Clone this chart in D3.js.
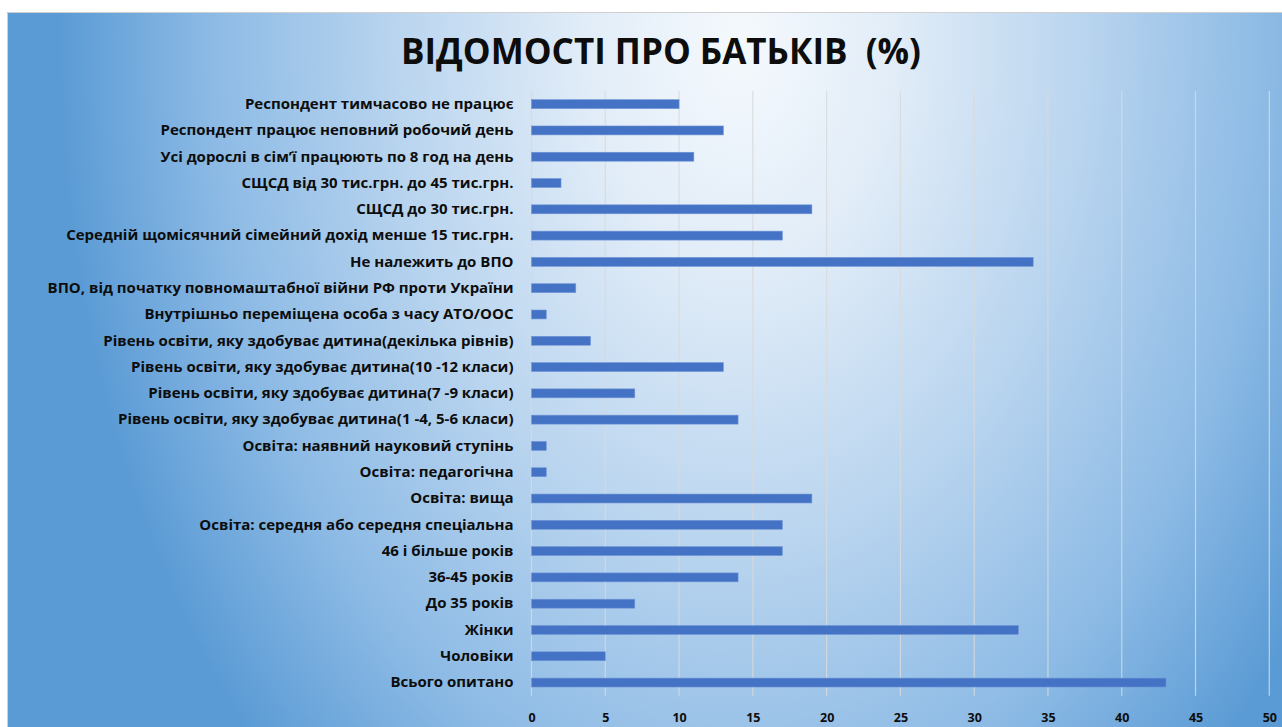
<!DOCTYPE html>
<html>
<head>
<meta charset="utf-8">
<script src="https://cdn.jsdelivr.net/npm/d3@7"></script>
<style>
  body { margin: 0; background: #fff; }
  svg { display: block; font-family: "Open Sans", "Noto Sans", sans-serif; }
</style>
</head>
<body>
<svg id="chart"></svg>
<script>
const categories = [
  "Респондент тимчасово не працює",
  "Респондент працює неповний робочий день",
  "Усі дорослі в сім’ї працюють по 8 год на день",
  "СЩСД від 30 тис.грн. до 45 тис.грн.",
  "СЩСД до 30 тис.грн.",
  "Середній щомісячний сімейний дохід менше 15 тис.грн.",
  "Не належить до ВПО",
  "ВПО, від початку повномаштабної війни РФ проти України",
  "Внутрішньо переміщена особа з часу АТО/ООС",
  "Рівень освіти, яку здобуває дитина(декілька рівнів)",
  "Рівень освіти, яку здобуває дитина(10 -12 класи)",
  "Рівень освіти, яку здобуває дитина(7 -9 класи)",
  "Рівень освіти, яку здобуває дитина(1 -4, 5-6 класи)",
  "Освіта: наявний науковий ступінь",
  "Освіта: педагогічна",
  "Освіта: вища",
  "Освіта: середня або середня спеціальна",
  "46 і більше років",
  "36-45 років",
  "До 35 років",
  "Жінки",
  "Чоловіки",
  "Всього опитано"
];
const values = [10, 13, 11, 2, 19, 17, 34, 3, 1, 4, 13, 7, 14, 1, 1, 19, 17, 17, 14, 7, 33, 5, 43];
const xTicks = [0, 5, 10, 15, 20, 25, 30, 35, 40, 45, 50];
const title = "ВІДОМОСТІ ПРО БАТЬКІВ  (%)";

const width = 1282;
const height = 727;
const plot = { left: 531.5, right: 1269.3, top: 91, bottom: 695.7 };

let svg = d3.select("#chart")
            .attr("width", width)
            .attr("height", height);

// background gradient (light centre, blue edges)
let defs = svg.append("defs");
let grad = defs.append("radialGradient")
                 .attr("id", "bg")
                 .attr("gradientUnits", "userSpaceOnUse")
                 .attr("cx", 0).attr("cy", 0).attr("r", 1)
                 .attr("gradientTransform", "translate(740,40) scale(680,1000)");
[["0", "#f5f9fd"], ["0.22", "#e2edf8"], ["0.5", "#bad5ef"], ["0.78", "#8cbae5"], ["1", "#5b9bd5"]]
  .forEach(s => grad.append("stop").attr("offset", s[0]).attr("stop-color", s[1]));

svg.append("rect")
    .attr("x", 7).attr("y", 12)
    .attr("width", width - 7).attr("height", height - 12)
    .attr("fill", "url(#bg)");
svg.append("path")
    .attr("d", `M7.5,${height} V12.5 H${width}`)
    .attr("fill", "none")
    .attr("stroke", "#d0d0d0");

// title
svg.append("text")
    .attr("x", 661)
    .attr("y", 64)
    .attr("text-anchor", "middle")
    .style("font-size", "35px")
    .style("font-weight", "700")
    .style("fill", "#0d0d0d")
    .style("white-space", "pre")
    .text(title);

// scales
let x = d3.scaleLinear()
          .domain([0, 50])
          .range([plot.left, plot.right]);

let y = d3.scaleBand()
          .domain(categories)
          .range([plot.top, plot.bottom])
          .paddingInner(0.66)
          .paddingOuter(0.33);

// gridlines
svg.append("g")
    .selectAll("line")
    .data(xTicks)
    .enter()
    .append("line")
      .attr("x1", d => x(d)).attr("x2", d => x(d))
      .attr("y1", plot.top).attr("y2", plot.bottom)
      .attr("stroke", "#d9d9d9")
      .attr("stroke-opacity", 0.85)
      .attr("stroke-width", 1.2);

// x axis
let xAxis = d3.axisBottom(x)
              .tickValues(xTicks)
              .tickSize(0)
              .tickPadding(0);

svg.append("g")
    .attr("transform", `translate(0, ${plot.bottom + 17})`)
    .call(xAxis)
    .call(g => g.select(".domain").remove())
    .selectAll("text")
      .style("font-family", "'Open Sans', sans-serif")
      .style("font-size", "12.5px")
      .style("font-weight", "700")
      .style("fill", "#0d0d0d");

// y axis labels
let yAxis = d3.axisLeft(y)
              .tickSize(0)
              .tickPadding(18);

svg.append("g")
    .attr("transform", `translate(${plot.left}, 0)`)
    .call(yAxis)
    .call(g => g.select(".domain").remove())
    .selectAll("text")
      .style("font-family", "'Open Sans', sans-serif")
      .style("font-size", "15px")
      .style("font-weight", "700")
      .style("fill", "#0d0d0d");

// bars
svg.append("g")
    .selectAll("rect")
    .data(values)
    .enter()
    .append("rect")
      .attr("x", x(0))
      .attr("y", (d, i) => y(categories[i]))
      .attr("width", d => x(d) - x(0))
      .attr("height", y.bandwidth())
      .attr("fill", "#4472c4")
      .attr("stroke", "#7196d8")
      .attr("stroke-width", 0.6);
</script>
</body>
</html>
